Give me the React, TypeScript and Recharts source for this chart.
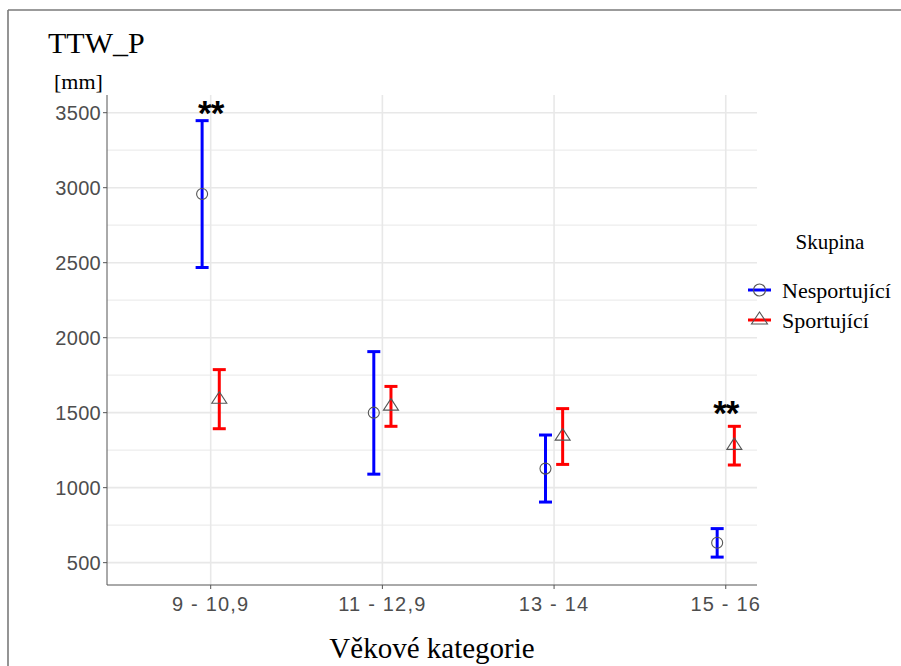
import React from 'react';
import { ComposedChart, Scatter, XAxis, YAxis, ErrorBar, ReferenceLine, Legend } from 'recharts';

const categories = ['9 - 10,9', '11 - 12,9', '13 - 14', '15 - 16'];
const nesMean = [2958, 1500, 1127, 633];
const nesLow = [2468, 1090, 904, 537];
const nesHigh = [3447, 1907, 1351, 727];
const spoMean = [1593, 1547, 1347, 1285];
const spoLow = [1393, 1409, 1155, 1151];
const spoHigh = [1787, 1675, 1527, 1409];
const sigText = ['**', '', '', '**'];
const sigY = [3540, 0, 0, 1540];
const yTicks = [500, 1000, 1500, 2000, 2500, 3000, 3500];
const yMinor = [750, 1250, 1750, 2250, 2750, 3250];
const seriesNames = ['Nesportující', 'Sportující'];
const seriesColors = ['#0000ff', '#ff0000'];
const legendTitle = 'Skupina';
const title = 'TTW_P';
const unit = '[mm]';
const xTitle = 'Věkové kategorie';

const DODGE = 0.05;

const nesData = categories.map((c, i) => ({
  x: i - DODGE,
  y: nesMean[i],
  err: [nesMean[i] - nesLow[i], nesHigh[i] - nesMean[i]],
}));
const spoData = categories.map((c, i) => ({
  x: i + DODGE,
  y: spoMean[i],
  err: [spoMean[i] - spoLow[i], spoHigh[i] - spoMean[i]],
}));
const sigData = categories
  .map((c, i) => ({ x: i, y: sigY[i], t: sigText[i] }))
  .filter((d) => d.t);

const SERIF = '"Liberation Serif", "Times New Roman", serif';
const SANS = '"Liberation Sans", Arial, sans-serif';

const CircleShape = (p: any) => (
  <circle cx={p.cx} cy={p.cy} r={5.5} fill="none" stroke="#555" strokeWidth={1.1} />
);
const TriangleShape = (p: any) => (
  <polygon
    points={`${p.cx},${p.cy - 7} ${p.cx - 7.5},${p.cy + 4.5} ${p.cx + 7.5},${p.cy + 4.5}`}
    fill="none"
    stroke="#555"
    strokeWidth={1.1}
  />
);
const SigShape = (p: any) => (
  <text
    x={p.cx}
    y={p.cy + 18}
    textAnchor="middle"
    fontFamily={SANS}
    fontWeight="bold"
    fontSize={35}
    letterSpacing={-1}
    fill="#000"
  >
    {p.payload.t}
  </text>
);

const LegendContent = () => (
  <svg width={156} height={135} style={{ overflow: 'visible' }}>
    <text x={86} y={33} textAnchor="middle" fontFamily={SERIF} fontSize={21} fill="#000">
      {legendTitle}
    </text>
    {seriesNames.map((n, i) => {
      const cy = 74 + i * 30;
      return (
        <g key={n}>
          <line x1={4} x2={27} y1={cy} y2={cy} stroke={seriesColors[i]} strokeWidth={3} />
          {i === 0 ? (
            <circle cx={15.5} cy={cy} r={6} fill="none" stroke="#555" strokeWidth={1.1} />
          ) : (
            <polygon
              points={`15.5,${cy - 8} 7.5,${cy + 4} 23.5,${cy + 4}`}
              fill="none"
              stroke="#555"
              strokeWidth={1.1}
            />
          )}
          <text x={38} y={cy + 8} fontFamily={SERIF} fontSize={22} fill="#000">
            {n}
          </text>
        </g>
      );
    })}
  </svg>
);

export default function App() {
  return (
    <div style={{ position: 'absolute', left: 0, top: 0, width: 901, height: 666, background: '#fff' }}>
      <ComposedChart
        width={901}
        height={666}
        margin={{ top: 95, right: 144, bottom: 51, left: 47 }}
      >
        {yMinor.map((v) => (
          <ReferenceLine key={'m' + v} y={v} stroke="#ededed" strokeWidth={1.2} />
        ))}
        {yTicks.map((v) => (
          <ReferenceLine key={'M' + v} y={v} stroke="#e8e8e8" strokeWidth={1.6} />
        ))}
        {categories.map((c, i) => (
          <ReferenceLine key={'v' + c} x={i} stroke="#e8e8e8" strokeWidth={1.6} />
        ))}
        <XAxis
          type="number"
          dataKey="x"
          domain={[-0.604, 3.182]}
          ticks={[0, 1, 2, 3]}
          tickFormatter={(v: number) => categories[v]}
          allowDataOverflow
          height={30}
          stroke="#555"
          tickSize={4}
          tickMargin={8}
          tick={{ fill: '#4d4d4d', fontSize: 20, fontFamily: SANS, letterSpacing: 1.2 }}
          label={{
            value: xTitle,
            position: 'bottom',
            offset: 22,
            fontFamily: SERIF,
            fontSize: 29,
            fill: '#000',
          }}
        />
        <YAxis
          type="number"
          dataKey="y"
          domain={[351, 3618]}
          ticks={yTicks}
          allowDataOverflow
          width={60}
          stroke="#555"
          tickSize={4}
          tickMargin={2}
          tick={{ fill: '#4d4d4d', fontSize: 20, fontFamily: SANS, letterSpacing: 0.3 }}
        />
        <Legend
          layout="horizontal"
          verticalAlign="middle"
          align="center"
          wrapperStyle={{ left: 744, top: 216, width: 156, height: 135 }}
          content={<LegendContent />}
        />
        <Scatter
          name={seriesNames[0]}
          data={nesData}
          fill={seriesColors[0]}
          shape={<CircleShape />}
          isAnimationActive={false}
        >
          <ErrorBar dataKey="err" direction="y" width={6.5} stroke={seriesColors[0]} strokeWidth={3} />
        </Scatter>
        <Scatter
          name={seriesNames[1]}
          data={spoData}
          fill={seriesColors[1]}
          shape={<TriangleShape />}
          isAnimationActive={false}
        >
          <ErrorBar dataKey="err" direction="y" width={6.5} stroke={seriesColors[1]} strokeWidth={3} />
        </Scatter>
        <Scatter
          name="sig"
          data={sigData}
          shape={<SigShape />}
          legendType="none"
          isAnimationActive={false}
        />
      </ComposedChart>
      <svg
        width={901}
        height={666}
        style={{ position: 'absolute', left: 0, top: 0, pointerEvents: 'none' }}
      >
        <line x1={8} x2={901} y1={10} y2={10} stroke="#7a7a7a" strokeWidth={1.6} />
        <line x1={8} x2={8} y1={10} y2={666} stroke="#7a7a7a" strokeWidth={1.6} />
        <text x={48} y={53} fontFamily={SERIF} fontSize={30} fill="#000">
          {title}
        </text>
        <text x={54} y={89} fontFamily={SERIF} fontSize={22} fill="#000">
          {unit}
        </text>
      </svg>
    </div>
  );
}
